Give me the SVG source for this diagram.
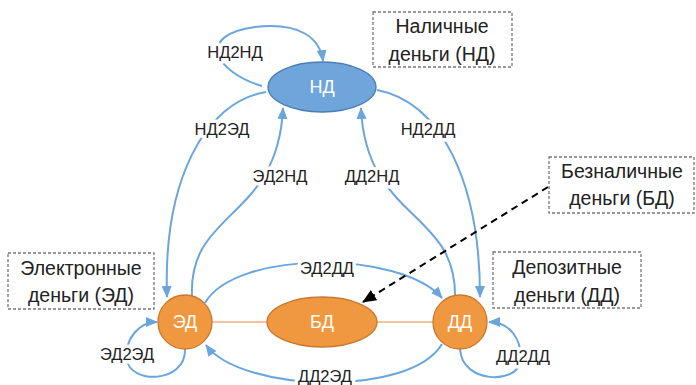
<svg xmlns="http://www.w3.org/2000/svg" width="696" height="385" viewBox="0 0 696 385">
<defs>
<marker id="ab" markerWidth="12" markerHeight="12" viewBox="0 0 12 12" refX="11" refY="6" orient="auto" markerUnits="userSpaceOnUse"><path d="M0,1 L12,6 L0,11 Z" fill="#6AA5DC"/></marker>
<marker id="ak" markerWidth="14" markerHeight="14" viewBox="0 0 14 14" refX="13" refY="7" orient="auto" markerUnits="userSpaceOnUse"><path d="M0,1 L14,7 L0,13 Z" fill="#000"/></marker>
<style>
.e{fill:none;stroke:#6AA5DC;stroke-width:2;marker-end:url(#ab)}
.lb{font-family:"Liberation Sans",Arial,sans-serif;font-size:16.5px;fill:#222;text-anchor:middle;paint-order:stroke;stroke:#fff;stroke-width:7px;stroke-linejoin:round}
.bx{fill:#fff;stroke:#777;stroke-width:1.3;stroke-dasharray:3 2}
.bt{font-family:"Liberation Sans",Arial,sans-serif;font-size:19.5px;fill:#222;text-anchor:middle}
.nt{font-family:"Liberation Sans",Arial,sans-serif;font-size:18px;fill:#fff;text-anchor:middle}
.or{fill:#F0983F;stroke:#C9782F;stroke-width:1.3}
</style>
</defs>
<g id="connectors">
<line x1="212" y1="322" x2="433" y2="322" stroke="#F4B183" stroke-width="1.5"/>
<path class="e" d="M262,86 C215,72 195,35 255,27 C300,22 320,38 323,61"/>
<path class="e" d="M266,92 C205,102 163,180 167,297"/>
<path class="e" d="M192,296 C188,210 278,220 283,108"/>
<path class="e" d="M455,296 C456,210 366,220 361,108"/>
<path class="e" d="M377,90 C440,102 480,180 480,297"/>
<path class="e" d="M205,303 C235,250 400,250 442,298"/>
<path class="e" d="M442,344 C410,398 240,392 206,345"/>
<path class="e" d="M185,349 C186,384 130,384 127,360 C124,338 140,322 157,322"/>
<path class="e" d="M460,349 C462,384 517,384 520,362 C523,340 510,322 489,322"/>
<path d="M548,187 L363,302" fill="none" stroke="#000" stroke-width="2" stroke-dasharray="7 5" marker-end="url(#ak)"/>
<text class="lb" x="235" y="58">НД2НД</text>
<text class="lb" x="222" y="135">НД2ЭД</text>
<text class="lb" x="428" y="135">НД2ДД</text>
<text class="lb" x="280" y="182">ЭД2НД</text>
<text class="lb" x="372" y="182">ДД2НД</text>
<text class="lb" x="327" y="274">ЭД2ДД</text>
<text class="lb" x="325" y="382">ДД2ЭД</text>
<text class="lb" x="127" y="360">ЭД2ЭД</text>
<text class="lb" x="523" y="362">ДД2ДД</text>
</g>
<g id="nd"><ellipse cx="322" cy="87" rx="54" ry="25" fill="#6FA5DA" stroke="#4A7EB5" stroke-width="1.3"/><text class="nt" x="322" y="93">НД</text></g>
<g id="ed"><circle class="or" cx="185" cy="322" r="27"/><text class="nt" x="185" y="328">ЭД</text></g>
<g id="bd"><ellipse class="or" cx="322" cy="322" rx="55" ry="25"/><text class="nt" x="322" y="328">БД</text></g>
<g id="dd"><circle class="or" cx="460" cy="322" r="27"/><text class="nt" x="460" y="328">ДД</text></g>
<g id="box-nd"><rect class="bx" x="373" y="12" width="139" height="55"/><text class="bt" x="442" y="33">Наличные</text><text class="bt" x="442" y="61">деньги (НД)</text></g>
<g id="box-ed"><rect class="bx" x="8" y="253" width="146" height="56"/><text class="bt" x="81" y="275">Электронные</text><text class="bt" x="81" y="302">деньги (ЭД)</text></g>
<g id="box-dd"><rect class="bx" x="493" y="252" width="148" height="56"/><text class="bt" x="567" y="274">Депозитные</text><text class="bt" x="567" y="302">деньги (ДД)</text></g>
<g id="box-bd"><rect class="bx" x="549" y="157" width="145" height="56"/><text class="bt" x="622" y="178">Безналичные</text><text class="bt" x="622" y="205">деньги (БД)</text></g>
</svg>
